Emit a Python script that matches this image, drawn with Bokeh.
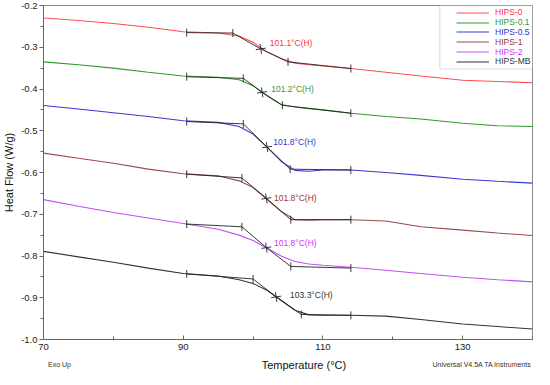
import math
from bokeh.plotting import figure
from bokeh.layouts import column
from bokeh.models import (Range1d, FixedTicker, PrintfTickFormatter, Legend, LegendItem,
                          BoxAnnotation, ColumnDataSource)
from bokeh.core.properties import value
from bokeh.embed import file_html
from bokeh.resources import INLINE

# ---- data ----
temps = [70, 75, 80, 85, 90, 95, 98, 100, 102, 104, 106, 108, 110, 114, 119, 124, 130, 135, 140]
hips_0 = [-0.230, -0.236, -0.243, -0.252, -0.263, -0.266, -0.273, -0.288, -0.311, -0.327, -0.338, -0.342,
          -0.345, -0.351, -0.360, -0.369, -0.379, -0.382, -0.385]
hips_01 = [-0.335, -0.342, -0.350, -0.360, -0.369, -0.372, -0.378, -0.392, -0.416, -0.437, -0.443, -0.447,
           -0.450, -0.458, -0.466, -0.472, -0.482, -0.488, -0.490]
hips_05 = [-0.4395, -0.448, -0.457, -0.466, -0.476, -0.480, -0.490, -0.508, -0.539, -0.573, -0.595, -0.597,
           -0.594, -0.594, -0.600, -0.607, -0.616, -0.621, -0.6255]
hips_1 = [-0.5535, -0.566, -0.578, -0.592, -0.603, -0.608, -0.620, -0.636, -0.664, -0.693, -0.713, -0.714,
          -0.713, -0.713, -0.716, -0.730, -0.738, -0.745, -0.751]
hips_2 = [-0.665, -0.681, -0.696, -0.709, -0.722, -0.736, -0.750, -0.763, -0.781, -0.800, -0.813, -0.819,
          -0.822, -0.827, -0.834, -0.842, -0.851, -0.857, -0.862]
hips_mb = [-0.789, -0.802, -0.815, -0.829, -0.842, -0.848, -0.857, -0.866, -0.882, -0.906, -0.930, -0.941,
           -0.942, -0.942, -0.944, -0.952, -0.963, -0.969, -0.975]

series_names = ["HIPS-0", "HIPS-0.1", "HIPS-0.5", "HIPS-1", "HIPS-2", "HIPS-MB"]
series_values = [hips_0, hips_01, hips_05, hips_1, hips_2, hips_mb]
series_colors = ["#FF4D4D", "#2E9B2E", "#3A3AD0", "#A04848", "#C050F0", "#333333"]
label_colors = ["#FF3333", "#339933", "#3333CC", "#993333", "#CC33FF", "#333333"]

# glass transition tangent constructions: (T, HF) points
constr_T = [
    [90.5, 97.1, 101.1, 105.0, 114.0],
    [90.5, 98.6, 101.3, 104.2, 114.0],
    [90.5, 98.6, 102.0, 105.3, 114.0],
    [90.5, 98.4, 101.9, 105.4, 114.0],
    [90.5, 98.4, 101.9, 105.4, 114.0],
    [90.5, 100.0, 103.3, 106.9, 114.0],
]
constr_HF = [
    [-0.265, -0.266, -0.304, -0.335, -0.351],
    [-0.3706, -0.3745, -0.408, -0.439, -0.458],
    [-0.478, -0.4835, -0.539, -0.592, -0.594],
    [-0.604, -0.613, -0.662, -0.713, -0.713],
    [-0.7235, -0.730, -0.780, -0.825, -0.829],
    [-0.843, -0.855, -0.898, -0.940, -0.942],
]
tg_labels = ["101.1°C(H)", "101.2°C(H)", "101.8°C(H)", "101.8°C(H)", "101.8°C(H)", "103.3°C(H)"]
tg_label_T = [102.4, 102.6, 102.9, 103.0, 103.0, 105.3]
tg_label_HF = [-0.2906, -0.401, -0.528, -0.660, -0.770, -0.893]

x_major = [70, 90, 110, 130]
x_minor = [80, 100, 120, 140]
y_major = [-1.0, -0.9, -0.8, -0.7, -0.6, -0.5, -0.4, -0.3, -0.2]
y_minor = [-0.95, -0.85, -0.75, -0.65, -0.55, -0.45, -0.35, -0.25]

footer_texts = ["Exo Up", "Temperature (°C)", "Universal V4.5A TA Instruments"]

FONT = "Liberation Sans"
W = 538
BORDER_L, BORDER_R, BORDER_T, BORDER_B = 41, 6, 5, 18
FRAME_H = 334

p = figure(width=W, height=BORDER_T + FRAME_H + BORDER_B, output_backend="svg",
           toolbar_location=None, x_range=Range1d(70, 140), y_range=Range1d(-1.0, -0.2),
           min_border_left=BORDER_L, min_border_right=BORDER_R,
           min_border_top=BORDER_T, min_border_bottom=BORDER_B)
p.xgrid.visible = False
p.ygrid.visible = False
p.outline_line_color = "#888888"
p.outline_line_width = 1
p.background_fill_color = "white"
p.border_fill_color = "white"

# axes
p.xaxis.ticker = FixedTicker(ticks=x_major, minor_ticks=x_minor)
p.yaxis.ticker = FixedTicker(ticks=y_major, minor_ticks=y_minor)
p.yaxis.formatter = PrintfTickFormatter(format="%.1f")
p.yaxis.axis_label = "Heat Flow (W/g)"
for ax in (p.xaxis[0], p.yaxis[0]):
    ax.axis_line_color = "#666666"
    ax.major_tick_line_color = "#666666"
    ax.minor_tick_line_color = "#666666"
    ax.major_label_text_font = FONT
    ax.major_label_text_font_size = "9.5px"
    ax.major_label_text_color = "#222222"
    ax.axis_label_text_font = FONT
    ax.axis_label_text_font_size = "11px"
    ax.axis_label_text_font_style = "normal"
    ax.axis_label_text_color = "#111111"
p.xaxis.major_tick_in = 4
p.xaxis.major_tick_out = 0
p.xaxis.minor_tick_in = 3
p.xaxis.minor_tick_out = 0
p.xaxis.major_label_standoff = 4
p.yaxis.major_tick_in = 0
p.yaxis.major_tick_out = 4
p.yaxis.minor_tick_in = 0
p.yaxis.minor_tick_out = 3
p.yaxis.major_label_standoff = 2
p.yaxis.axis_label_standoff = 3

# curves
renderers = []
for name, vals, col in zip(series_names, series_values, series_colors):
    r = p.line(temps, vals, line_color=col, line_width=1.1)
    renderers.append(r)

# tangent constructions
for cT, cH in zip(constr_T, constr_HF):
    p.line(cT, cH, line_color="#222222", line_width=0.9)
    tick_T = [cT[0], cT[1], cT[3], cT[4]]
    tick_H = [cH[0], cH[1], cH[3], cH[4]]
    p.scatter(tick_T, tick_H, marker="dash", angle=math.pi / 2, size=8,
              line_color="#222222", line_width=0.9)
    p.scatter([cT[2]], [cH[2]], marker="cross", angle=0.15, size=10,
              line_color="#222222", line_width=0.9)

# Tg labels
src = ColumnDataSource(dict(x=tg_label_T, y=tg_label_HF, t=tg_labels, c=label_colors))
p.text(x="x", y="y", text="t", text_color="c", source=src, text_font=value(FONT),
       text_font_size="8.5px", text_align="left", text_baseline="middle")

# legend box
box = BoxAnnotation(left=126.74, right=140, top=-0.2, bottom=-0.352,
                    fill_color="white", fill_alpha=1.0, line_color="#888888", line_width=1)
p.add_layout(box)

for i, (name, r, lc) in enumerate(zip(series_names, renderers, label_colors)):
    y_loc = FRAME_H - (12.3 + 9.8 * i)
    lg = Legend(items=[LegendItem(label=name, renderers=[r])], location=(413, y_loc),
                padding=0, margin=0, spacing=0, label_standoff=6,
                glyph_width=33, glyph_height=9, label_height=9, label_width=20,
                label_text_font=FONT, label_text_font_size="8.5px", label_text_color=lc,
                border_line_alpha=0, background_fill_alpha=0)
    p.add_layout(lg)

# footer row: x-axis title plus instrument notes
FH = 14
footer = figure(width=W, height=FH, output_backend="svg", toolbar_location=None,
                x_range=Range1d(0, W), y_range=Range1d(0, FH),
                x_axis_type=None, y_axis_type=None,
                min_border_left=0, min_border_right=0, min_border_top=0, min_border_bottom=0)
footer.outline_line_color = None
footer.xgrid.visible = False
footer.ygrid.visible = False
frame_center = BORDER_L + (W - BORDER_L - BORDER_R) / 2
fsrc = ColumnDataSource(dict(x=[5, frame_center, W - 1], y=[FH / 2] * 3, t=footer_texts,
                             a=["left", "center", "right"], s=["7px", "11px", "7px"],
                             c=["#333333", "#111111", "#333333"]))
footer.text(x="x", y="y", text="t", text_align="a", text_font_size="s", text_color="c",
            text_baseline="middle", text_font=value(FONT), source=fsrc)

layout = column(p, footer, spacing=0)
open("out.html", "w").write(file_html(layout, INLINE))
